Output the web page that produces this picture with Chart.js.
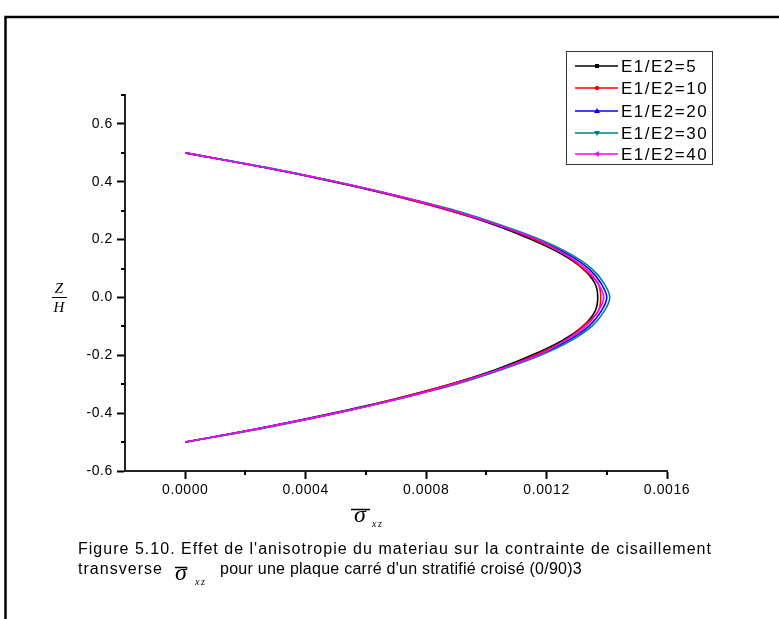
<!DOCTYPE html>
<html>
<head>
<meta charset="utf-8">
<script src="https://cdn.jsdelivr.net/npm/chart.js@4.4.1/dist/chart.umd.min.js"></script>
<style>
  html, body { margin: 0; padding: 0; background: #fff; }
  #wrap { width: 779px; height: 619px; position: relative; }
</style>
</head>
<body>
<div id="wrap"><canvas id="chart"></canvas></div>
<script>
// Z/H positions through the thickness
const zValues = [-0.5, -0.45, -0.4, -0.35, -0.3, -0.25, -0.2, -0.15, -0.1, -0.05, 0,
                 0.05, 0.1, 0.15, 0.2, 0.25, 0.3, 0.35, 0.4, 0.45, 0.5];

// shear stress sigma_xz for each E1/E2 ratio
const sig5  = [0, 0.00026, 0.00049, 0.00070, 0.00088, 0.00103, 0.00115, 0.00125, 0.00132, 0.00136, 0.00137,
               0.00136, 0.00132, 0.00125, 0.00115, 0.00103, 0.00088, 0.00070, 0.00049, 0.00026, 0];
const sig10 = [0, 0.00026, 0.00050, 0.00070, 0.00088, 0.00104, 0.00116, 0.00126, 0.00132, 0.00137, 0.00138,
               0.00137, 0.00132, 0.00126, 0.00116, 0.00104, 0.00088, 0.00070, 0.00050, 0.00026, 0];
const sig20 = [0, 0.00026, 0.00050, 0.00071, 0.00089, 0.00104, 0.00117, 0.00127, 0.00134, 0.00138, 0.00140,
               0.00138, 0.00134, 0.00127, 0.00117, 0.00104, 0.00089, 0.00071, 0.00050, 0.00026, 0];
const sig30 = [0, 0.00027, 0.00050, 0.00071, 0.00090, 0.00105, 0.00118, 0.00128, 0.00135, 0.00139, 0.00141,
               0.00139, 0.00135, 0.00128, 0.00118, 0.00105, 0.00090, 0.00071, 0.00050, 0.00027, 0];
const sig40 = [0, 0.00026, 0.00050, 0.00071, 0.00089, 0.00104, 0.00117, 0.00126, 0.00133, 0.00137, 0.00139,
               0.00137, 0.00133, 0.00126, 0.00117, 0.00104, 0.00089, 0.00071, 0.00050, 0.00026, 0];

const seriesLabels = ['E1/E2=5', 'E1/E2=10', 'E1/E2=20', 'E1/E2=30', 'E1/E2=40'];
const seriesColors = ['#000000', '#ff0000', '#0000ff', '#008080', '#ff00ff'];
const seriesMarkers = ['rect', 'circle', 'triangle', 'triangleDown', 'triangleLeft'];

const xTickValues = [0, 0.0004, 0.0008, 0.0012, 0.0016];
const xMinorValues = [0.0002, 0.0006, 0.0010, 0.0014];
const yTickValues = [-0.6, -0.4, -0.2, 0, 0.2, 0.4, 0.6];
const yMinorValues = [-0.5, -0.3, -0.1, 0.1, 0.3, 0.5, 0.7];

const captionLine1 = "Figure 5.10. Effet de l'anisotropie du materiau sur la contrainte de cisaillement";
const captionLine2a = 'transverse';
const captionLine2b = "pour une plaque carré d'un stratifié croisé (0/90)3";

function toPoints(values) {
    return values.map((v, i) => ({ x: v, y: zValues[i] }));
}

const allSeries = [sig5, sig10, sig20, sig30, sig40];

// text with a fixed overall width (the original rendering is letter-spaced)
function fitText(ctx, text, x, y, width) {
    ctx.letterSpacing = '0px';
    const w = ctx.measureText(text).width;
    ctx.letterSpacing = ((width - w) / text.length) + 'px';
    ctx.fillText(text, x, y);
    ctx.letterSpacing = '0px';
}

function drawMarker(ctx, kind, x, y, color) {
    ctx.fillStyle = color;
    ctx.beginPath();
    if (kind === 'rect') {
        ctx.rect(x - 2, y - 2, 4, 4);
    } else if (kind === 'circle') {
        ctx.arc(x, y, 2.2, 0, Math.PI * 2);
    } else if (kind === 'triangle') {
        ctx.moveTo(x, y - 3); ctx.lineTo(x + 3, y + 2); ctx.lineTo(x - 3, y + 2);
    } else if (kind === 'triangleDown') {
        ctx.moveTo(x, y + 3); ctx.lineTo(x + 3, y - 2); ctx.lineTo(x - 3, y - 2);
    } else {
        ctx.moveTo(x - 3, y); ctx.lineTo(x + 2, y - 3); ctx.lineTo(x + 2, y + 3);
    }
    ctx.closePath();
    ctx.fill();
}

const decorPlugin = {
    id: 'decor',
    beforeDraw(chart) {
        chart.ctx.letterSpacing = '0.6px';
    },
    afterDraw(chart) {
        const ctx = chart.ctx;
        const xs = chart.scales.x;
        const ys = chart.scales.y;
        ctx.save();
        ctx.letterSpacing = '0px';

        // minor ticks
        ctx.strokeStyle = '#000';
        ctx.lineWidth = 2;
        ctx.beginPath();
        xMinorValues.forEach(v => {
            const px = Math.round(xs.getPixelForValue(v));
            ctx.moveTo(px, ys.bottom); ctx.lineTo(px, ys.bottom + 4);
        });
        yMinorValues.forEach(v => {
            const py = Math.round(ys.getPixelForValue(v));
            ctx.moveTo(xs.left, py); ctx.lineTo(xs.left - 4, py);
        });
        ctx.stroke();

        // outer frame
        ctx.lineWidth = 2.5;
        ctx.strokeRect(5.5, 17, 800, 700);

        // legend box
        ctx.lineWidth = 1;
        ctx.strokeStyle = '#333';
        ctx.strokeRect(566.5, 51.5, 146, 113);
        const rows = [66, 88, 111, 133, 154];
        ctx.font = '17px "Liberation Sans", Arial, sans-serif';
        ctx.textBaseline = 'middle';
        rows.forEach((ry, i) => {
            ctx.strokeStyle = seriesColors[i];
            ctx.lineWidth = 1.5;
            ctx.beginPath();
            ctx.moveTo(575, ry); ctx.lineTo(618, ry);
            ctx.stroke();
            drawMarker(ctx, seriesMarkers[i], 597, ry, seriesColors[i]);
            ctx.fillStyle = '#000';
            ctx.letterSpacing = '1.5px';
            ctx.fillText(seriesLabels[i], 621, ry + 1);
            ctx.letterSpacing = '0px';
        });

        // y axis title Z / H
        ctx.fillStyle = '#000';
        ctx.font = 'italic 15px "Liberation Serif", "Times New Roman", serif';
        ctx.textAlign = 'center';
        ctx.textBaseline = 'alphabetic';
        ctx.fillText('Z', 59, 293);
        ctx.fillText('H', 59, 312);
        ctx.lineWidth = 1;
        ctx.strokeStyle = '#000';
        ctx.beginPath();
        ctx.moveTo(52, 297.5); ctx.lineTo(67, 297.5);
        ctx.stroke();

        // x axis title sigma_xz with overline
        ctx.font = 'italic 24px "Liberation Serif", "Times New Roman", serif';
        ctx.fillText('\u03c3', 360, 522);
        ctx.lineWidth = 1.5;
        ctx.beginPath();
        ctx.moveTo(351, 509.5); ctx.lineTo(370, 509.5);
        ctx.stroke();
        ctx.font = 'italic 10px "Liberation Serif", "Times New Roman", serif';
        ctx.textAlign = 'left';
        ctx.letterSpacing = '1.5px';
        ctx.fillText('xz', 372, 527);
        ctx.letterSpacing = '0px';

        // caption
        ctx.font = '16px "Liberation Sans", Arial, sans-serif';
        ctx.textAlign = 'left';
        fitText(ctx, captionLine1, 78, 554, 634);
        fitText(ctx, captionLine2a, 78, 574, 85);
        fitText(ctx, captionLine2b, 220, 574, 362);
        ctx.font = 'italic 24px "Liberation Serif", "Times New Roman", serif';
        ctx.textAlign = 'center';
        ctx.fillText('\u03c3', 181, 580);
        ctx.lineWidth = 1.5;
        ctx.beginPath();
        ctx.moveTo(175, 567.5); ctx.lineTo(187, 567.5);
        ctx.stroke();
        ctx.font = 'italic 10px "Liberation Serif", "Times New Roman", serif';
        ctx.textAlign = 'left';
        ctx.letterSpacing = '1.5px';
        ctx.fillText('xz', 195, 585);

        ctx.restore();
    }
};

const ctx = document.getElementById('chart').getContext('2d');
new Chart(ctx, {
    type: 'scatter',
    data: {
        datasets: allSeries.map((s, i) => ({
            label: seriesLabels[i],
            data: toPoints(s),
            showLine: true,
            order: allSeries.length - 1 - i,   // last series drawn on top
            borderColor: seriesColors[i],
            backgroundColor: seriesColors[i],
            borderWidth: 1.6,
            pointRadius: 0,
            tension: 0.35
        }))
    },
    options: {
        responsive: true,
        maintainAspectRatio: false,
        animation: false,
        layout: { padding: { left: 0, top: 95, right: 112, bottom: 0 } },
        plugins: {
            legend: { display: false },
            tooltip: { enabled: false }
        },
        scales: {
            x: {
                type: 'linear',
                min: -0.0002,
                max: 0.0016,
                afterBuildTicks: scale => { scale.ticks = xTickValues.map(v => ({ value: v })); },
                afterFit: scale => { scale.height = 148; },
                border: { display: true, color: '#222', width: 2 },
                grid: { drawOnChartArea: false, drawTicks: true, tickLength: 8, tickColor: '#000', tickWidth: 2 },
                ticks: {
                    color: '#000',
                    padding: 3,
                    maxRotation: 0,
                    font: { family: '"Liberation Sans", Arial, sans-serif', size: 14 },
                    callback: v => v.toFixed(4)
                }
            },
            y: {
                type: 'linear',
                min: -0.6,
                max: 0.7,
                afterBuildTicks: scale => { scale.ticks = yTickValues.map(v => ({ value: v })); },
                afterFit: scale => { scale.width = 125; },
                border: { display: true, color: '#222', width: 2 },
                grid: { drawOnChartArea: false, drawTicks: true, tickLength: 8, tickColor: '#000', tickWidth: 2 },
                ticks: {
                    color: '#000',
                    padding: 4,
                    font: { family: '"Liberation Sans", Arial, sans-serif', size: 14 },
                    callback: v => v.toFixed(1)
                }
            }
        }
    },
    plugins: [decorPlugin]
});
</script>
</body>
</html>
